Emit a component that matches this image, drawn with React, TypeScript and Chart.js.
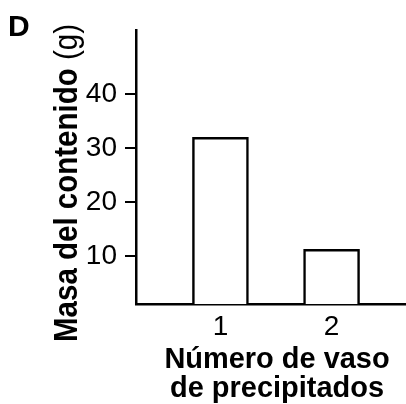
import React, { useEffect, useRef } from "react";
import { Chart, registerables } from "chart.js";

Chart.register(...registerables);

const panelLabel = "D";
const vesselNumbers = [1, 2];
const massValues = [32, 11.2];
const yTickValues = [10, 20, 30, 40];
const yTitleBold = "Masa del contenido";
const yTitleUnit = "(g)";
const xTitleLines = ["Número de vaso", "de precipitados"];

const FONT = '"Liberation Sans", Arial, Helvetica, sans-serif';

export default function App() {
  const ref = useRef<HTMLCanvasElement>(null);

  useEffect(() => {
    const canvas = ref.current;
    if (!canvas) return;

    const textPlugin = {
      id: "customText",
      afterDraw(chart: any) {
        const ctx = chart.ctx as CanvasRenderingContext2D;
        ctx.save();
        ctx.fillStyle = "#000";
        ctx.textBaseline = "alphabetic";

        // panel label
        ctx.textAlign = "left";
        ctx.font = `bold 30px ${FONT}`;
        ctx.fillText(panelLabel, 8, 36);

        // y title (mixed weights, rotated)
        ctx.save();
        ctx.translate(77, 342);
        ctx.rotate(-Math.PI / 2);
        const boldFont = `bold 33px ${FONT}`;
        const regFont = `33px ${FONT}`;
        ctx.font = boldFont;
        const part1 = yTitleBold + " ";
        const w1 = ctx.measureText(part1).width;
        ctx.font = regFont;
        const w2 = ctx.measureText(yTitleUnit).width;
        const sx = 318 / (w1 + w2);
        ctx.scale(sx, 1);
        ctx.textAlign = "left";
        ctx.font = boldFont;
        ctx.fillText(part1, 0, 0);
        ctx.font = regFont;
        ctx.fillText(yTitleUnit, w1, 0);
        ctx.restore();

        // x title
        ctx.font = `bold 30px ${FONT}`;
        ctx.textAlign = "center";
        const baselines = [368, 397];
        xTitleLines.forEach((line, i) => {
          ctx.save();
          ctx.translate(277, baselines[i]);
          ctx.scale(0.965, 1);
          ctx.fillText(line, 0, 0);
          ctx.restore();
        });
        ctx.restore();
      },
    };

    const chart = new Chart(canvas, {
      type: "bar",
      data: {
        datasets: [
          {
            data: vesselNumbers.map((v, i) => ({ x: v, y: massValues[i] })),
            backgroundColor: "#ffffff",
            borderColor: "#000000",
            borderWidth: 2.5,
            barThickness: 56,
            borderSkipped: "bottom",
          },
        ],
      },
      options: {
        responsive: false,
        animation: false,
        layout: { padding: { left: 0, right: 0, top: 30, bottom: 0 } },
        plugins: {
          legend: { display: false },
          tooltip: { enabled: false },
          title: { display: false },
        },
        scales: {
          x: {
            type: "linear",
            offset: false,
            min: 0.24,
            max: 2.67,
            afterFit: (scale: any) => {
              scale.height = 100;
            },
            afterBuildTicks: (scale: any) => {
              scale.ticks = vesselNumbers.map((v) => ({ value: v }));
            },
            grid: { display: false, drawTicks: false, offset: false },
            border: { display: true, color: "#000", width: 2.5 },
            ticks: {
              color: "#000",
              font: { family: FONT, size: 28 },
              padding: 6,
              maxRotation: 0,
              autoSkip: false,
            },
          },
          y: {
            type: "linear",
            min: 1.05,
            max: 51.95,
            afterFit: (scale: any) => {
              scale.width = 136;
            },
            afterBuildTicks: (scale: any) => {
              scale.ticks = yTickValues.map((v) => ({ value: v }));
            },
            grid: {
              display: true,
              drawOnChartArea: false,
              drawTicks: true,
              tickLength: 11,
              color: "#000",
              lineWidth: 2,
            },
            border: { display: true, color: "#000", width: 2.5 },
            ticks: {
              color: "#000",
              font: { family: FONT, size: 28 },
              padding: 8,
              autoSkip: false,
            },
          },
        },
      },
      plugins: [textPlugin],
    });

    return () => chart.destroy();
  }, []);

  return (
    <div style={{ position: "absolute", left: 0, top: 0, width: 406, height: 404, background: "#fff" }}>
      <canvas ref={ref} width={406} height={404} style={{ display: "block" }} />
    </div>
  );
}
